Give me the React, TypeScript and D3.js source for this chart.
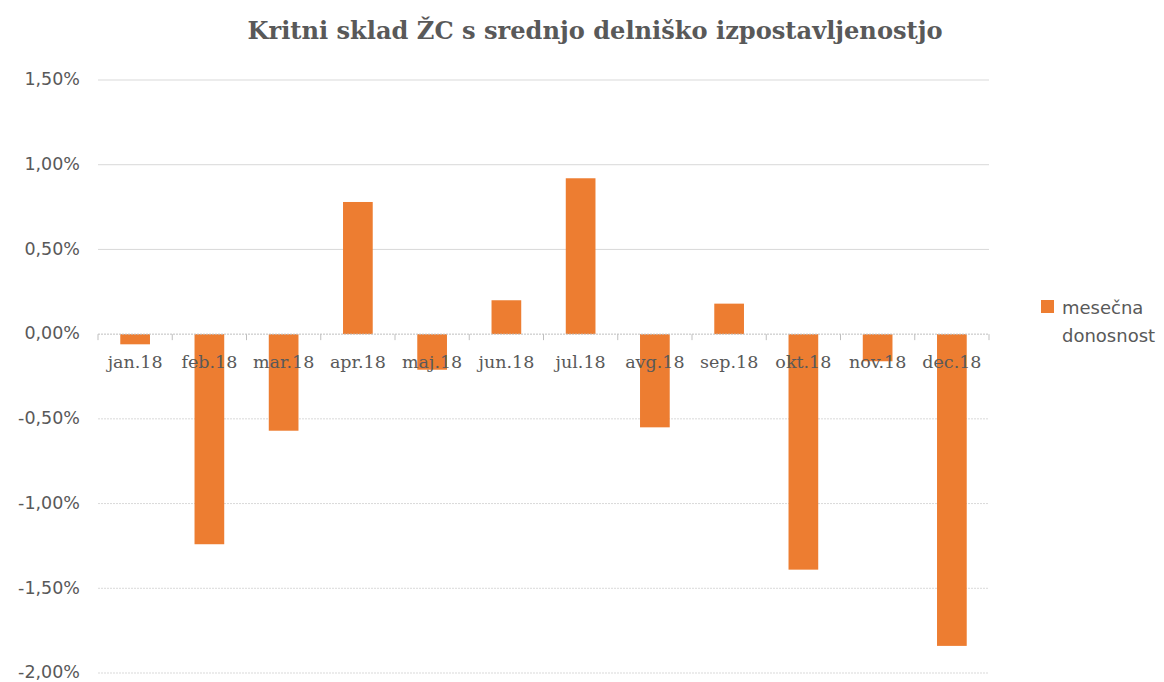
import React from "react";
import * as d3 from "d3";

const categories = ["jan.18", "feb.18", "mar.18", "apr.18", "maj.18", "jun.18", "jul.18", "avg.18", "sep.18", "okt.18", "nov.18", "dec.18"];
const values = [-0.06, -1.24, -0.57, 0.78, -0.21, 0.2, 0.92, -0.55, 0.18, -1.39, -0.16, -1.84];
const yTicks = [1.5, 1.0, 0.5, 0, -0.5, -1.0, -1.5, -2.0];
const title = "Kritni sklad ŽC s srednjo delniško izpostavljenostjo";
const legendLines = ["mesečna", "donosnost"];

const W = 1164;
const H = 682;
const left = 98;
const right = 989;
const top = 80;
const bottom = 673;
const barColor = "#ED7D31";
const textColor = "#595959";

const fmt = (v: number) => (v < 0 ? "-" : "") + Math.abs(v).toFixed(2).replace(".", ",") + "%";

export default function App() {
  const x = d3.scaleBand<string>().domain(categories).range([left, right]).padding(0);
  const y = d3.scaleLinear().domain([-2, 1.5]).range([bottom, top]);
  const bw = x.bandwidth();
  const barW = bw * 0.4;
  const y0 = y(0);

  return (
    <svg width={W} height={H} style={{ position: "absolute", left: 0, top: 0, background: "#fff" }}>
      <text x={595} y={39} textAnchor="middle" fontFamily="'DejaVu Serif', serif" fontWeight="bold" fontSize={24} fill={textColor} textLength={695} lengthAdjust="spacingAndGlyphs">
        {title}
      </text>
      {yTicks.map((t) => (
        <g key={t}>
          {t !== 0 && (
            <line x1={left} x2={right} y1={y(t)} y2={y(t)} stroke="#d9d9d9" strokeWidth={1} strokeDasharray={t < 0 ? "2,1" : undefined} />
          )}
          <text x={80} y={y(t)} dy="0.3em" textAnchor="end" fontFamily="'DejaVu Sans', sans-serif" fontSize={17.5} fill={textColor}>
            {fmt(t)}
          </text>
        </g>
      ))}
      {values.map((v, i) => {
        const cx = (x(categories[i]) as number) + bw / 2;
        return (
          <rect key={categories[i]} x={cx - barW / 2} y={Math.min(y(v), y0)} width={barW} height={Math.abs(y(v) - y0)} fill={barColor} />
        );
      })}
      <line x1={left} x2={right} y1={y0} y2={y0} stroke="#bfbfbf" strokeWidth={1} strokeDasharray="2,1" />
      {[...categories.map((c) => x(c) as number), right].map((tx, i) => (
        <line key={i} x1={tx} x2={tx} y1={y0} y2={y0 + 6} stroke="#bfbfbf" strokeWidth={1} />
      ))}
      {categories.map((c) => (
        <text key={c} x={(x(c) as number) + bw / 2} y={368} textAnchor="middle" fontFamily="'DejaVu Serif', serif" fontSize={17.5} fill={textColor}>
          {c}
        </text>
      ))}
      <rect x={1041} y={300} width={13} height={13} fill={barColor} />
      {legendLines.map((l, i) => (
        <text key={l} x={1062} y={314 + i * 28} fontFamily="'DejaVu Sans', sans-serif" fontSize={18} fill={textColor}>
          {l}
        </text>
      ))}
    </svg>
  );
}
